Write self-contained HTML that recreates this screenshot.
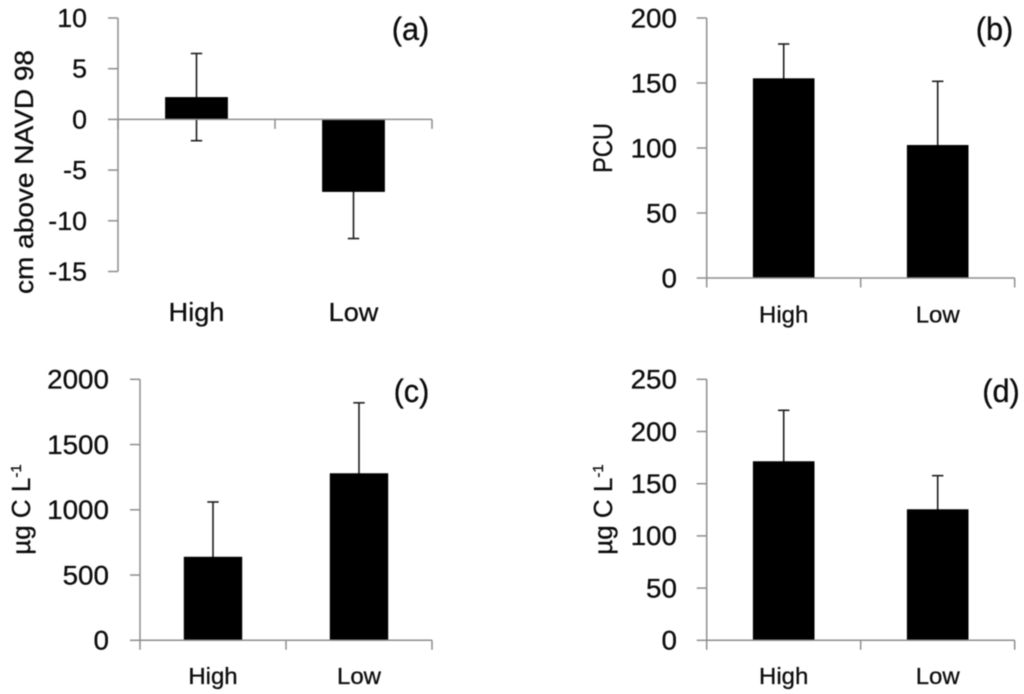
<!DOCTYPE html>
<html lang="en">
<head>
<meta charset="utf-8">
<title>Four-panel bar charts: High vs Low</title>
<style>
  html, body { margin: 0; padding: 0; background: #fff; }
  #figure { display: block; width: 1024px; height: 694px; filter: blur(0.45px); }
  text { font-family: "Liberation Sans", "DejaVu Sans", sans-serif; fill: #0c0c0c; stroke: #0c0c0c; stroke-width: 0.3px; }
</style>
</head>
<body>
<svg id="figure" width="1024" height="694" viewBox="0 0 1024 694" xmlns="http://www.w3.org/2000/svg">
  <g id="panel-a"></g>
  <g id="panel-b"></g>
  <g id="panel-c"></g>
  <g id="panel-d"></g>
</svg>
<script>
// ---- chart data ----
const categories = ['High', 'Low'];

const valuesA = [2.2, -7.15];
const errorsA = [4.3, 4.6];
const ticksA = ['10', '5', '0', '-5', '-10', '-15'];

const valuesB = [153.6, 102.3];
const errorsB = [26.4, 49];
const ticksB = ['200', '150', '100', '50', '0'];

const valuesC = [640, 1280];
const errorsC = [420, 540];
const ticksC = ['2000', '1500', '1000', '500', '0'];

const valuesD = [171.5, 125.5];
const errorsD = [48.8, 32.2];
const ticksD = ['250', '200', '150', '100', '50', '0'];

// ---- layout ----
const SVG_NS = 'http://www.w3.org/2000/svg';
const AXIS_COLOR = '#8e8e8e';
const ERR_COLOR = '#1e1e1e';

const panels = [
  { id: 'panel-a', key: 'a', values: valuesA, errors: errorsA, ticks: ticksA,
    left: 118, right: 432, top: 18, bottom: 271.5, tickFont: 26, tickRight: 87,
    catFont: 26, catBaseline: 321, catStretch: 1.04,
    tag: '(a)', tagX: 410.5, tagY: 40,
    title: 'cm above NAVD 98', titleX: 33, titleY: 172, titleLen: 244, titleFont: 26 },
  { id: 'panel-b', key: 'b', values: valuesB, errors: errorsB, ticks: ticksB,
    left: 706.7, right: 1014.7, top: 18, bottom: 278, tickFont: 27, tickRight: 677,
    catFont: 23.5, catBaseline: 322.5, catStretch: 1.02,
    tag: '(b)', tagX: 994.5, tagY: 40,
    title: 'PCU', titleX: 612, titleY: 148, titleLen: 50, titleFont: 27 },
  { id: 'panel-c', key: 'c', values: valuesC, errors: errorsC, ticks: ticksC,
    left: 140, right: 432, top: 379.3, bottom: 640.3, tickFont: 27, tickRight: 109,
    catFont: 23.5, catBaseline: 684, catStretch: 1.02,
    tag: '(c)', tagX: 411.5, tagY: 402,
    title: 'µg C L', sup: '-1', titleX: 30, titleY: 509.5, titleFont: 26 },
  { id: 'panel-d', key: 'd', values: valuesD, errors: errorsD, ticks: ticksD,
    left: 706.7, right: 1014.7, top: 379.3, bottom: 640.3, tickFont: 27, tickRight: 677,
    catFont: 23.5, catBaseline: 684, catStretch: 1.02,
    tag: '(d)', tagX: 1001, tagY: 402,
    title: 'µg C L', sup: '-1', titleX: 612, titleY: 509.5, titleFont: 26 }
];

function make(parent, tag) {
  const el = document.createElementNS(SVG_NS, tag);
  parent.appendChild(el);
  return el;
}
function set(el, props) {
  for (const k in props) el.setAttribute(k, props[k]);
  return el;
}
function stretch(el, factor) {
  const w = el.getComputedTextLength();
  el.setAttribute('textLength', (w * factor).toFixed(2));
  el.setAttribute('lengthAdjust', 'spacingAndGlyphs');
}

function drawPanel(p) {
  const g = document.getElementById(p.id);
  const nums = p.ticks.map(Number);
  const maxV = Math.max.apply(null, nums);
  const minV = Math.min.apply(null, nums);
  const y = v => p.top + (maxV - v) / (maxV - minV) * (p.bottom - p.top);
  const band = (p.right - p.left) / categories.length;
  const x = i => p.left + band * (i + 0.5);
  const barW = band * 0.4;
  const zeroY = y(0);

  // error bars (drawn first, bars sit on top)
  categories.forEach((c, i) => {
    const hi = y(p.values[i] + p.errors[i]);
    const lo = y(p.values[i] - p.errors[i]);
    const line = set(make(g, 'line'), { x1: x(i), x2: x(i), y1: hi, y2: lo, stroke: ERR_COLOR, 'stroke-width': 1.6 });
    
    
    [hi, lo].forEach(cy => {
      const cap = set(make(g, 'line'), { x1: x(i) - 5.7, x2: x(i) + 5.7, y1: cy, y2: cy, stroke: ERR_COLOR, 'stroke-width': 1.6 });
      
      
    });
  });

  // bars
  categories.forEach((c, i) => {
    const yTop = Math.min(y(p.values[i]), zeroY);
    const h = Math.abs(y(p.values[i]) - zeroY);
    const bar = set(make(g, 'rect'), { x: x(i) - barW / 2, y: yTop, width: barW, height: h, fill: '#000' });
    
    
  });

  // y axis
  const yAxis = set(make(g, 'line'), { x1: p.left, x2: p.left, y1: p.top, y2: p.bottom, stroke: AXIS_COLOR, 'stroke-width': 1.5 });
  
  

  // x axis
  const xAxis = set(make(g, 'line'), { x1: p.left, x2: p.right, y1: zeroY, y2: zeroY, stroke: AXIS_COLOR, 'stroke-width': 1.5 });
  
  

  // x ticks at band edges
  for (let i = 0; i <= categories.length; i++) {
    const tx = p.left + band * i;
    const t = set(make(g, 'line'), { x1: tx, x2: tx, y1: zeroY, y2: zeroY + 9.5, stroke: AXIS_COLOR, 'stroke-width': 1.5 });
    
    
  }

  // y ticks and labels
  p.ticks.forEach((label, i) => {
    const ty = y(nums[i]);
    const t = set(make(g, 'line'), { x1: p.left - 10, x2: p.left, y1: ty, y2: ty, stroke: AXIS_COLOR, 'stroke-width': 1.5 });
    
    
    const txt = set(make(g, 'text'), { x: p.tickRight, y: ty + p.tickFont * 0.345, 'text-anchor': 'end', 'font-size': p.tickFont });
    txt.textContent = label;
    
    
    stretch(txt, 1.03);
  });

  // category labels
  categories.forEach((c, i) => {
    const txt = set(make(g, 'text'), { x: x(i), y: p.catBaseline, 'text-anchor': 'middle', 'font-size': p.catFont });
    txt.textContent = c;
    
    
    stretch(txt, p.catStretch);
  });

  // panel tag
  const tag = set(make(g, 'text'), { x: p.tagX, y: p.tagY, 'text-anchor': 'middle', 'font-size': 32 });
  tag.textContent = p.tag;
  
  
  stretch(tag, 0.96);

  // y title
  const title = set(make(g, 'text'), {
    x: 0, y: 0, 'text-anchor': 'middle', 'font-size': p.titleFont,
    transform: 'translate(' + p.titleX + ' ' + p.titleY + ') rotate(-90)'
  });
  
  
  if (p.sup) {
    const base = make(title, 'tspan');
    base.textContent = p.title;
    const sup = set(make(title, 'tspan'), { 'font-size': 15, dy: -9 });
    sup.textContent = p.sup;
  } else {
    title.textContent = p.title;
    title.setAttribute('textLength', p.titleLen);
    title.setAttribute('lengthAdjust', 'spacingAndGlyphs');
  }
}

panels.forEach(drawPanel);
</script>
</body>
</html>
